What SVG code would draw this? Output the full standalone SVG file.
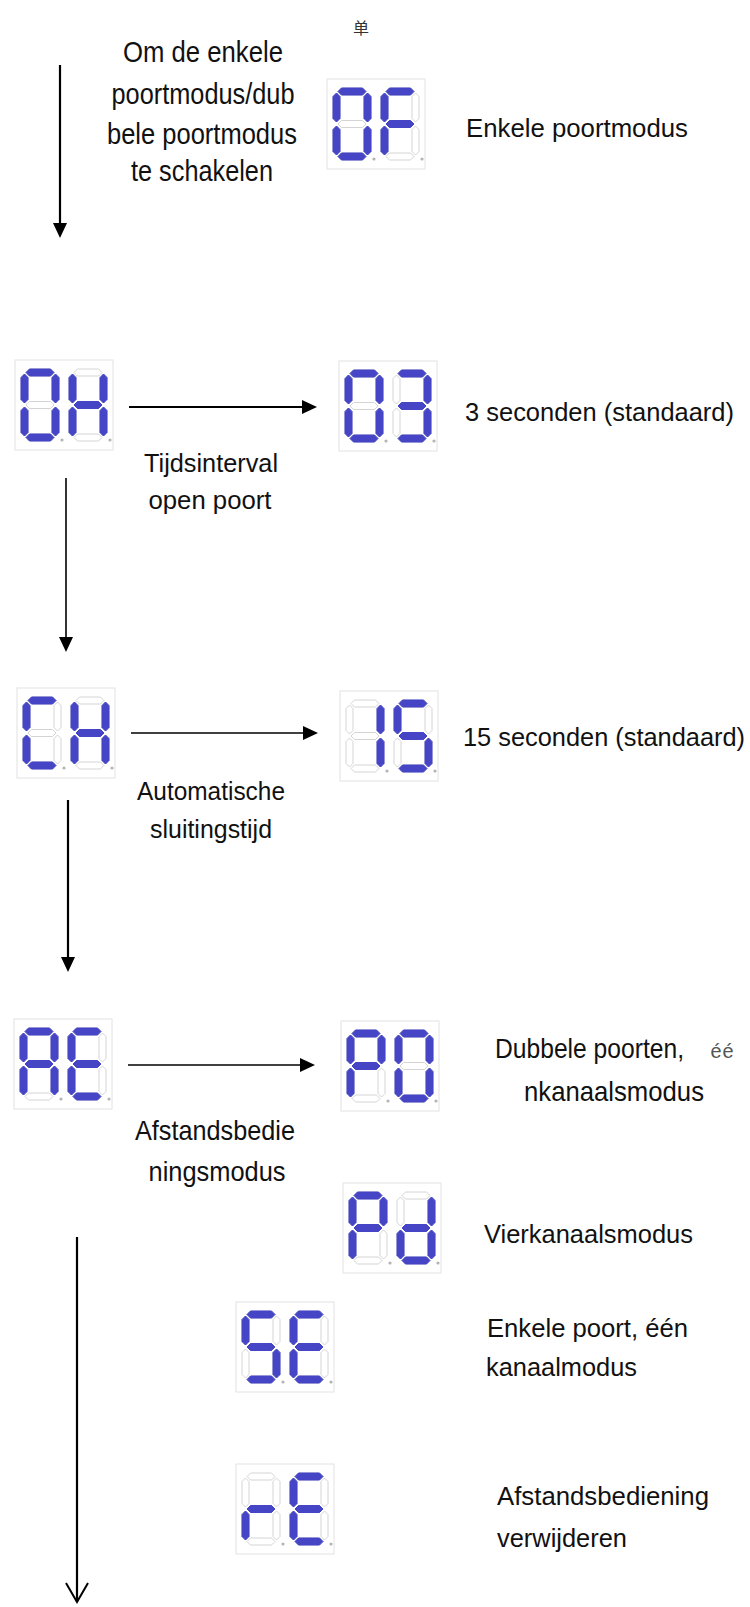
<svg xmlns="http://www.w3.org/2000/svg" xmlns:xlink="http://www.w3.org/1999/xlink" width="750" height="1607" viewBox="0 0 750 1607">
<style>
  text { font-family: "Liberation Sans", Arial, "Noto Sans CJK SC", sans-serif; fill: #111; }
  .lbl { font-size: 26px; }
  .big { font-size: 29px; }
  .mid { font-size: 28px; }
  .box { fill: #ffffff; stroke: #e2e2e2; stroke-width: 1; }
  .off { fill: none; stroke: #d4d4d4; stroke-width: 1; }
  .on { fill: #4545c6; stroke: #4545c6; stroke-width: 1; stroke-linejoin: round; }
  .dp { fill: #b4b4b4; }
  .ln { stroke: #000; fill: none; }
  .thin { stroke-width: 1.6; }
  .thick { stroke-width: 2.2; }
</style>
<defs>
  <path id="sa" d="M5,3.5 L8.5,0 L29.5,0 L33,3.5 L29.5,7 L8.5,7 Z"/>
  <path id="sg" d="M5,36 L8.5,32.5 L29.5,32.5 L33,36 L29.5,39.5 L8.5,39.5 Z"/>
  <path id="sd" d="M5,68.5 L8.5,65 L29.5,65 L33,68.5 L29.5,72 L8.5,72 Z"/>
  <path id="sf" d="M3.5,5 L7,8.5 L7,30.5 L3.5,34 L0,30.5 L0,8.5 Z"/>
  <path id="sb" d="M34.5,5 L38,8.5 L38,30.5 L34.5,34 L31,30.5 L31,8.5 Z"/>
  <path id="se" d="M3.5,38 L7,41.5 L7,63.5 L3.5,67 L0,63.5 L0,41.5 Z"/>
  <path id="sc" d="M34.5,38 L38,41.5 L38,63.5 L34.5,67 L31,63.5 L31,41.5 Z"/>
  <g id="off7" class="off"><use href="#sa"/><use href="#sb"/><use href="#sc"/><use href="#sd"/><use href="#se"/><use href="#sf"/><use href="#sg"/></g>
  <g id="d0"><use href="#off7"/><g class="on"><use href="#sa"/><use href="#sb"/><use href="#sc"/><use href="#sd"/><use href="#se"/><use href="#sf"/></g></g>
  <g id="dF"><use href="#off7"/><g class="on"><use href="#sa"/><use href="#se"/><use href="#sf"/><use href="#sg"/></g></g>
  <g id="dH"><use href="#off7"/><g class="on"><use href="#sb"/><use href="#sc"/><use href="#se"/><use href="#sf"/><use href="#sg"/></g></g>
  <g id="d3"><use href="#off7"/><g class="on"><use href="#sa"/><use href="#sb"/><use href="#sc"/><use href="#sd"/><use href="#sg"/></g></g>
  <g id="dC"><use href="#off7"/><g class="on"><use href="#sa"/><use href="#sd"/><use href="#se"/><use href="#sf"/></g></g>
  <g id="d1"><use href="#off7"/><g class="on"><use href="#sb"/><use href="#sc"/></g></g>
  <g id="d5"><use href="#off7"/><g class="on"><use href="#sa"/><use href="#sc"/><use href="#sd"/><use href="#sf"/><use href="#sg"/></g></g>
  <g id="dA"><use href="#off7"/><g class="on"><use href="#sa"/><use href="#sb"/><use href="#sc"/><use href="#se"/><use href="#sf"/><use href="#sg"/></g></g>
  <g id="dE"><use href="#off7"/><g class="on"><use href="#sa"/><use href="#sd"/><use href="#se"/><use href="#sf"/><use href="#sg"/></g></g>
  <g id="dP"><use href="#off7"/><g class="on"><use href="#sa"/><use href="#sb"/><use href="#se"/><use href="#sf"/><use href="#sg"/></g></g>
  <g id="dd"><use href="#off7"/><g class="on"><use href="#sb"/><use href="#sc"/><use href="#sd"/><use href="#se"/><use href="#sg"/></g></g>
  <g id="dr"><use href="#off7"/><g class="on"><use href="#se"/><use href="#sg"/></g></g>
  <g id="frame"><rect class="box" x="0" y="0" width="98" height="90"/><circle class="dp" cx="47" cy="80" r="1.6"/><circle class="dp" cx="95" cy="80" r="1.6"/></g>
  <marker id="ah" viewBox="0 0 15 14" refX="2" refY="7" markerWidth="15" markerHeight="14" markerUnits="userSpaceOnUse" orient="auto">
    <path d="M0,0 L15,7 L0,14 Z" fill="#000"/>
  </marker>
  <marker id="av" viewBox="-1 -1 22 24" refX="19" refY="11" markerWidth="22" markerHeight="24" markerUnits="userSpaceOnUse" orient="auto">
    <path d="M0,0 L19,11 L0,22" fill="none" stroke="#000" stroke-width="2"/>
  </marker>
</defs>
<rect width="750" height="1607" fill="#ffffff"/>

<text x="353" y="34" style="font-family:'Noto Sans CJK SC',sans-serif;font-size:16px;fill:#333">单</text>

<g id="connectors">
  <line class="ln thick" x1="60" y1="65" x2="60" y2="225" marker-end="url(#ah)"/>
  <line class="ln thick" x1="129" y1="407" x2="304" y2="407" marker-end="url(#ah)"/>
  <line class="ln thin" x1="66" y1="478" x2="66" y2="639" marker-end="url(#ah)"/>
  <line class="ln thin" x1="131" y1="733" x2="305" y2="733" marker-end="url(#ah)"/>
  <line class="ln thick" x1="68" y1="800" x2="68" y2="959" marker-end="url(#ah)"/>
  <line class="ln thin" x1="128" y1="1065" x2="302" y2="1065" marker-end="url(#ah)"/>
  <line class="ln thick" x1="77" y1="1237" x2="77" y2="1602" marker-end="url(#av)"/>
</g>

<g id="labels">
  <g id="label-switch" class="big" text-anchor="middle">
    <text x="203" y="62" textLength="160" lengthAdjust="spacingAndGlyphs">Om de enkele</text>
    <text x="203" y="104" textLength="183" lengthAdjust="spacingAndGlyphs">poortmodus/dub</text>
    <text x="202" y="144" textLength="190" lengthAdjust="spacingAndGlyphs">bele poortmodus</text>
    <text x="202" y="181" textLength="142" lengthAdjust="spacingAndGlyphs">te schakelen</text>
  </g>
  <g id="label-open" class="lbl" text-anchor="middle">
    <text x="211" y="472" textLength="134" lengthAdjust="spacingAndGlyphs">Tijdsinterval</text>
    <text x="210" y="509" textLength="123" lengthAdjust="spacingAndGlyphs">open poort</text>
  </g>
  <g id="label-close" class="lbl" text-anchor="middle">
    <text x="211" y="800" textLength="148" lengthAdjust="spacingAndGlyphs">Automatische</text>
    <text x="211" y="838" textLength="122" lengthAdjust="spacingAndGlyphs">sluitingstijd</text>
  </g>
  <g id="label-remote" class="mid" text-anchor="middle">
    <text x="215" y="1140" textLength="160" lengthAdjust="spacingAndGlyphs">Afstandsbedie</text>
    <text x="217" y="1181" textLength="137" lengthAdjust="spacingAndGlyphs">ningsmodus</text>
  </g>
</g>

<g id="node-OF">
  <g transform="translate(327,79)"><use href="#frame"/><use href="#d0" x="6" y="9"/><use href="#dF" x="54" y="9"/></g>
  <text class="lbl" x="466" y="137" textLength="222" lengthAdjust="spacingAndGlyphs">Enkele poortmodus</text>
</g>
<g id="node-OH">
  <g transform="translate(15,360)"><use href="#frame"/><use href="#d0" x="6" y="9"/><use href="#dH" x="54" y="9"/></g>
</g>
<g id="node-03">
  <g transform="translate(339,361)"><use href="#frame"/><use href="#d0" x="6" y="9"/><use href="#d3" x="54" y="9"/></g>
  <text class="lbl" x="465" y="421" textLength="269" lengthAdjust="spacingAndGlyphs">3 seconden (standaard)</text>
</g>
<g id="node-CH">
  <g transform="translate(17,688)"><use href="#frame"/><use href="#dC" x="6" y="9"/><use href="#dH" x="54" y="9"/></g>
</g>
<g id="node-15">
  <g transform="translate(340,691)"><use href="#frame"/><use href="#d1" x="6" y="9"/><use href="#d5" x="54" y="9"/></g>
  <text class="lbl" x="463" y="746" textLength="282" lengthAdjust="spacingAndGlyphs">15 seconden (standaard)</text>
</g>
<g id="node-AE">
  <g transform="translate(14,1019)"><use href="#frame"/><use href="#dA" x="6" y="9"/><use href="#dE" x="54" y="9"/></g>
</g>
<g id="node-P0">
  <g transform="translate(341,1021)"><use href="#frame"/><use href="#dP" x="6" y="9"/><use href="#d0" x="54" y="9"/></g>
  <text class="mid" x="495" y="1058" textLength="189" lengthAdjust="spacingAndGlyphs">Dubbele poorten,</text>
  <text x="710" y="1058" style="font-family:'Liberation Mono','DejaVu Sans Mono',monospace;font-size:20px;fill:#555">éé</text>
  <text class="mid" x="524" y="1101" textLength="180" lengthAdjust="spacingAndGlyphs">nkanaalsmodus</text>
</g>
<g id="node-Pd">
  <g transform="translate(343,1183)"><use href="#frame"/><use href="#dP" x="6" y="9"/><use href="#dd" x="54" y="9"/></g>
  <text class="lbl" x="484" y="1243" textLength="209" lengthAdjust="spacingAndGlyphs">Vierkanaalsmodus</text>
</g>
<g id="node-SE">
  <g transform="translate(236,1302)"><use href="#frame"/><use href="#d5" x="6" y="9"/><use href="#dE" x="54" y="9"/></g>
  <text class="lbl" x="487" y="1337" textLength="201" lengthAdjust="spacingAndGlyphs">Enkele poort, één</text>
  <text class="lbl" x="486" y="1376" textLength="151" lengthAdjust="spacingAndGlyphs">kanaalmodus</text>
</g>
<g id="node-rE">
  <g transform="translate(236,1464)"><use href="#frame"/><use href="#dr" x="6" y="9"/><use href="#dE" x="54" y="9"/></g>
  <text class="lbl" x="497" y="1505" textLength="212" lengthAdjust="spacingAndGlyphs">Afstandsbediening</text>
  <text class="lbl" x="497" y="1547" textLength="130" lengthAdjust="spacingAndGlyphs">verwijderen</text>
</g>
</svg>
